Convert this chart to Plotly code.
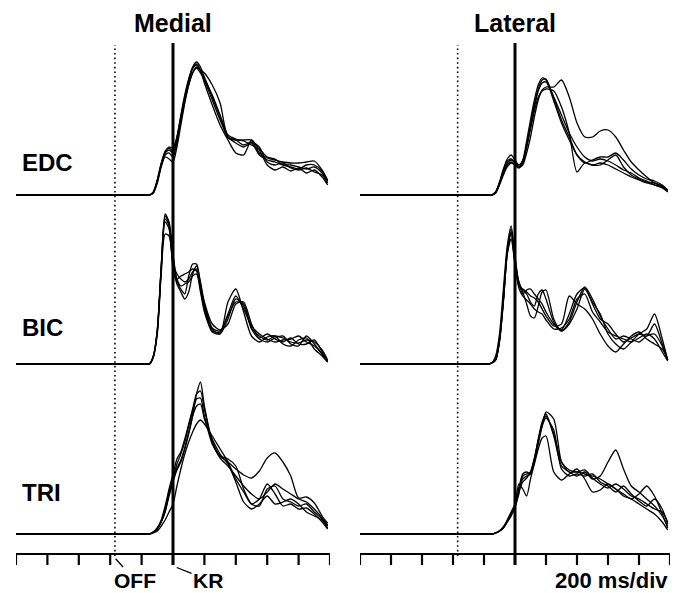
import plotly.graph_objects as go

W, H = 681, 593

# time (ms) relative to KR
t = [-1000, -250, -200, -175, -150, -125, -100, -75, -50, -25, 0, 25, 50, 75, 100, 125, 150, 175, 200,
     250, 300, 350, 400, 450, 500, 550, 600, 650, 700, 750, 800, 850, 900, 950, 985]

off_time = -370
kr_time = 0
tick_times = [-1000, -800, -600, -400, -200, 0, 200, 400, 600, 800, 1000]

muscles = ["EDC", "BIC", "TRI"]
panels = ["Medial", "Lateral"]

medial_edc = [
    [0,0,0,0,0,3,15,32,43,48,47,58,78,98,115,128,133,128,118,98,78,57,55,50,53,48,33,30,32,27,25,27,23,20,12],
    [0,0,0,0,0,2,12,28,38,36,33,48,70,92,110,122,128,125,122,110,92,58,55,55,55,42,37,35,33,32,32,33,34,25,15],
    [0,0,0,0,0,3,14,30,42,45,42,56,76,96,113,126,131,124,112,90,70,55,42,40,55,45,30,25,28,24,27,22,25,18,10],
    [0,0,0,0,0,3,15,31,44,47,44,58,80,100,116,127,130,125,115,95,75,58,52,48,52,40,35,33,30,30,28,26,28,22,12],
    [0,0,0,0,0,2,13,30,40,42,38,52,74,94,110,122,127,122,116,100,80,60,56,54,50,46,38,36,30,28,26,30,30,24,14],
]
medial_bic = [
    [0,0,0,0,0,8,34,98,148,140,108,82,75,70,88,100,100,80,58,35,30,62,75,52,28,22,27,28,20,18,24,26,15,8,2],
    [0,0,0,0,0,7,30,90,130,128,100,85,88,90,92,95,93,75,55,32,30,45,65,58,35,25,22,26,28,20,18,28,20,10,3],
    [0,0,0,0,0,8,33,96,145,138,95,80,72,65,72,90,98,82,62,40,34,40,60,62,40,26,30,25,22,26,20,20,24,12,2],
    [0,0,0,0,0,8,34,97,150,142,110,85,78,80,82,88,90,72,52,33,32,50,68,55,38,30,25,22,24,25,28,22,18,10,2],
    [0,0,0,0,0,7,32,95,142,135,100,90,85,82,85,92,95,78,60,36,33,48,62,60,36,28,24,28,26,22,21,24,22,14,4],
]
medial_tri = [
    [0,0,0,0,0,2,5,12,22,38,52,64,72,85,100,118,140,152,128,93,78,72,65,59,56,63,76,81,72,58,36,37,31,18,11],
    [0,0,0,0,0,2,6,13,25,42,56,70,80,92,108,122,135,136,118,90,78,75,68,45,30,28,45,48,35,32,28,30,22,15,8],
    [0,0,0,0,0,2,5,12,23,40,54,66,74,86,102,118,128,130,115,95,80,70,52,32,25,30,38,30,32,35,30,22,18,14,6],
    [0,0,0,0,0,1,3,8,14,22,30,48,65,80,92,102,110,114,110,98,85,72,55,42,30,35,50,40,28,30,25,26,20,12,5],
    [0,0,0,0,0,2,6,14,28,45,60,75,82,95,110,125,140,143,125,92,76,68,58,48,40,35,42,50,45,40,35,32,25,16,9],
]
lateral_edc = [
    [0,0,0,0,0,3,12,24,34,36,32,28,33,50,70,90,106,115,116,97,75,58,40,33,30,30,35,40,28,20,16,13,12,9,4],
    [0,0,0,0,0,2,10,20,28,32,30,28,30,42,58,78,95,105,108,108,115,98,72,58,58,64,65,58,45,33,25,18,12,8,4],
    [0,0,0,0,0,3,12,24,32,35,33,30,34,48,66,84,98,104,106,104,88,62,23,32,30,32,30,26,22,18,15,12,10,8,4],
    [0,0,0,0,0,3,13,26,36,40,35,30,35,54,75,95,110,117,115,94,72,55,40,32,35,38,38,42,35,26,20,16,14,10,5],
    [0,0,0,0,0,2,11,22,30,33,30,27,32,48,68,88,104,112,113,98,80,62,48,38,34,36,34,30,25,22,17,14,10,7,3],
]
lateral_bic = [
    [0,0,0,0,1,8,30,75,118,138,108,82,74,70,62,58,70,74,65,42,34,50,70,76,60,45,40,30,22,26,30,28,40,20,4],
    [0,0,0,0,1,4,24,64,112,135,105,80,72,60,48,46,58,72,74,45,33,40,55,75,62,50,30,20,15,22,30,35,50,25,4],
    [0,0,0,0,1,4,22,62,110,130,100,78,75,72,68,66,62,55,48,38,40,68,60,55,45,30,18,12,20,28,32,25,20,15,5],
    [0,0,0,0,1,4,23,63,110,125,100,82,70,74,75,70,65,60,52,40,33,42,62,77,65,48,35,25,28,25,22,28,30,18,4],
    [0,0,0,0,1,4,24,65,114,132,102,76,68,64,60,55,52,50,44,35,36,45,65,70,52,42,32,28,25,22,26,30,25,12,3],
]
lateral_tri = [
    [0,0,0,0,0,1,3,7,13,20,28,45,55,58,60,72,90,108,122,115,72,62,62,60,58,55,50,45,40,35,40,48,38,20,6],
    [0,0,0,0,0,1,3,6,12,18,27,40,58,60,62,75,95,112,120,98,68,62,58,62,55,58,72,84,65,48,42,35,28,18,8],
    [0,0,0,0,0,1,3,7,14,22,30,50,45,38,55,70,85,96,98,62,54,60,65,55,42,44,50,45,38,35,30,25,20,12,4],
    [0,0,0,0,0,1,3,7,13,21,28,46,60,62,60,74,92,108,116,104,65,58,60,58,60,52,48,42,48,40,33,28,35,25,10],
    [0,0,0,0,0,1,3,6,12,19,27,42,52,56,62,76,94,110,118,100,72,64,62,64,56,50,46,50,45,38,35,30,25,22,12],
]

data = {
    ("Medial", "EDC"): medial_edc, ("Medial", "BIC"): medial_bic, ("Medial", "TRI"): medial_tri,
    ("Lateral", "EDC"): lateral_edc, ("Lateral", "BIC"): lateral_bic, ("Lateral", "TRI"): lateral_tri,
}

# layout geometry (pixels)
panel_px = {"Medial": (16, 330), "Lateral": (360, 670)}
row_base_px = {"EDC": 195, "BIC": 364, "TRI": 534}
yrange = [-10, 160]          # 1 unit = 1 px
axis_px = 554
tick_bottom_px = 565

def py(p):
    return 1 - p / H

fig = go.Figure()
layout = dict(width=W, height=H, margin=dict(l=0, r=0, t=0, b=0),
              paper_bgcolor="white", plot_bgcolor="rgba(0,0,0,0)", showlegend=False)

for ci, pn in enumerate(panels):
    xname = "xaxis" if ci == 0 else "xaxis2"
    xref = "x" if ci == 0 else "x2"
    x0, x1 = panel_px[pn]
    layout[xname] = dict(domain=[x0 / W, x1 / W], range=[tick_times[0], tick_times[-1]], anchor="free",
                         position=py(axis_px), showline=True, linewidth=2, linecolor="black",
                         ticks="", showticklabels=False, showgrid=False, zeroline=False)
    for ri, m in enumerate(muscles):
        k = ci * 3 + ri + 1
        yname = "yaxis" if k == 1 else f"yaxis{k}"
        yref = "y" if k == 1 else f"y{k}"
        b = row_base_px[m]
        lo = b - yrange[0]
        hi = b - yrange[1]
        layout[yname] = dict(domain=[py(lo), py(hi)], range=yrange, anchor=xref,
                             visible=False, showgrid=False, zeroline=False)
        for tr in data[(pn, m)]:
            fig.add_trace(go.Scatter(x=t, y=tr, xaxis=xref, yaxis=yref, mode="lines",
                                     line=dict(color="black", width=1.3, shape="spline", smoothing=0.7),
                                     hoverinfo="skip"))

shapes = []
annotations = []
font_b = dict(family="Liberation Sans, Arial, sans-serif", size=23, color="black")
font_s = dict(family="Liberation Sans, Arial, sans-serif", size=21, color="black")
for ci, pn in enumerate(panels):
    xref = "x" if ci == 0 else "x2"
    # tick marks at each 200 ms division
    for tv in tick_times:
        shapes.append(dict(type="line", xref=xref, yref="paper", x0=tv, x1=tv,
                           y0=py(tick_bottom_px), y1=py(axis_px), line=dict(color="black", width=2.2)))
    shapes.append(dict(type="line", xref=xref, yref="paper", x0=kr_time, x1=kr_time,
                       y0=py(tick_bottom_px), y1=py(43), line=dict(color="black", width=3)))
    shapes.append(dict(type="line", xref=xref, yref="paper", x0=off_time, x1=off_time,
                       y0=py(556), y1=py(45), line=dict(color="black", width=1.6, dash="1.6px,3px")))
    annotations.append(dict(text=f"<b>{pn}</b>", xref=xref, yref="paper", x=0, y=py(23),
                            showarrow=False, font=dict(font_b, size=25), xanchor="center", yanchor="middle"))

row_label_y = {"EDC": 162, "BIC": 327, "TRI": 492}
for m in muscles:
    annotations.append(dict(text=f"<b>{m}</b>", xref="paper", yref="paper", x=20 / W, y=py(row_label_y[m]),
                            showarrow=False, font=dict(font_b, size=24), xanchor="left", yanchor="middle"))

annotations.append(dict(text="<b>OFF</b>", xref="x", yref="paper", x=off_time, y=py(558),
                        showarrow=True, arrowhead=0, arrowwidth=1.3, arrowcolor="black",
                        ax=20, ay=22, font=font_s, standoff=1))
annotations.append(dict(text="<b>KR</b>", xref="x", yref="paper", x=kr_time, y=py(566),
                        showarrow=True, arrowhead=0, arrowwidth=1.3, arrowcolor="black",
                        ax=35, ay=14, font=font_s, standoff=4))
annotations.append(dict(text="<b>200 ms/div</b>", xref="paper", yref="paper", x=611 / W, y=py(580),
                        showarrow=False, font=dict(font_s, size=22), xanchor="center", yanchor="middle"))

layout["shapes"] = shapes
layout["annotations"] = annotations
fig.update_layout(**layout)
fig.write_html("out.html")
